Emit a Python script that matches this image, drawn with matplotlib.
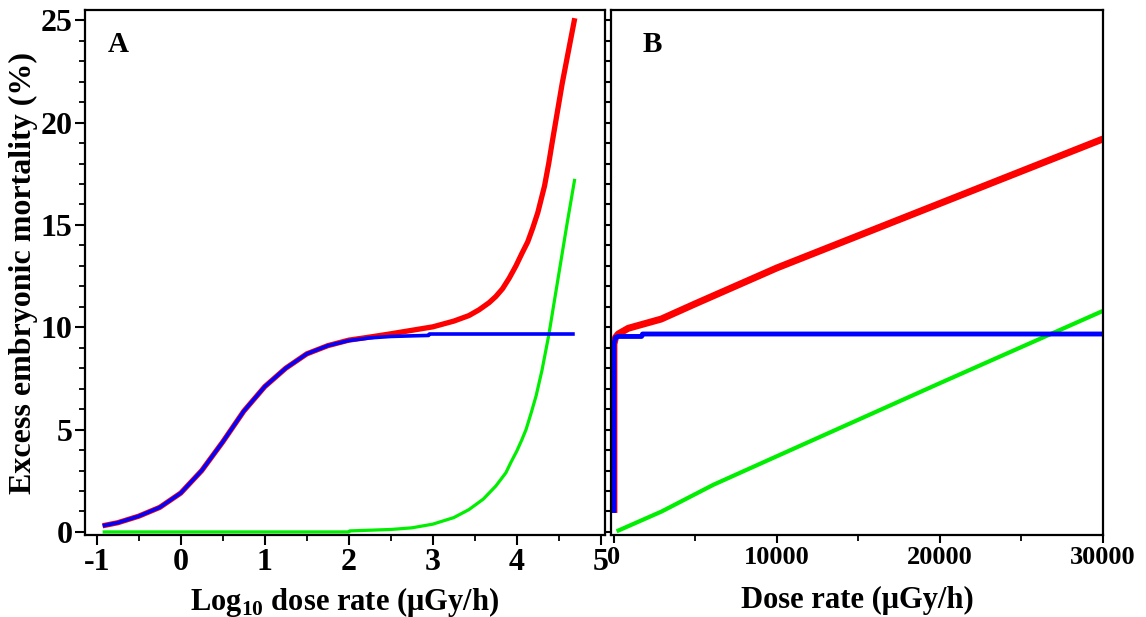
import matplotlib
matplotlib.use("Agg")
import matplotlib.pyplot as plt
from matplotlib.ticker import MultipleLocator

plt.rcParams['font.family'] = ['Liberation Serif', 'DejaVu Serif']
plt.rcParams['mathtext.fontset'] = 'custom'
plt.rcParams['mathtext.rm'] = 'Liberation Serif:bold'
plt.rcParams['mathtext.bf'] = 'Liberation Serif:bold'

# ---------------- Panel A data (log10 dose rate) ----------------
a_blue_x = [-0.93, -0.75, -0.5, -0.25, 0.0, 0.25, 0.5, 0.75, 1.0, 1.25, 1.5, 1.75,
            2.0, 2.25, 2.5, 2.75, 2.95, 2.96, 3.5, 4.0, 4.69]
a_blue_y = [0.30, 0.45, 0.77, 1.20, 1.90, 3.00, 4.40, 5.90, 7.10, 8.00, 8.70, 9.10,
            9.35, 9.48, 9.55, 9.58, 9.60, 9.67, 9.67, 9.67, 9.67]

a_red_x = [-0.93, -0.75, -0.5, -0.25, 0.0, 0.25, 0.5, 0.75, 1.0, 1.25, 1.5, 1.75,
           2.0, 2.25, 2.5, 2.75, 3.0, 3.25, 3.43, 3.55, 3.67, 3.75, 3.83, 3.91,
           3.99, 4.06, 4.13, 4.19, 4.25, 4.33, 4.38, 4.42, 4.54, 4.69]
a_red_y = [0.30, 0.45, 0.77, 1.20, 1.90, 3.00, 4.40, 5.90, 7.10, 8.00, 8.70, 9.10,
           9.37, 9.52, 9.68, 9.85, 10.02, 10.30, 10.57, 10.85, 11.20, 11.50, 11.88,
           12.40, 13.00, 13.60, 14.17, 14.85, 15.60, 16.90, 18.00, 19.00, 21.90, 25.10]

a_green_x = [-0.93, 0.0, 1.0, 2.0, 2.01, 2.5, 2.75, 3.0, 3.25, 3.43, 3.6, 3.75,
             3.87, 3.93, 4.0, 4.06, 4.11, 4.17, 4.23, 4.3, 4.38, 4.5, 4.6, 4.69]
a_green_y = [0.0, 0.0, 0.0, 0.0, 0.05, 0.12, 0.20, 0.38, 0.70, 1.09, 1.60, 2.24,
             2.89, 3.40, 3.95, 4.50, 5.00, 5.80, 6.65, 7.90, 9.60, 12.60, 15.10, 17.25]

# ---------------- Panel B data (dose rate) ----------------
b_blue_x = [0, 0, 100, 250, 1700, 1750, 30000]
b_blue_y = [0.93, 9.20, 9.50, 9.55, 9.55, 9.67, 9.67]

b_red_x = [0, 0, 100, 265, 880, 2900, 4970, 10000, 20000, 30000]
b_red_y = [0.93, 9.18, 9.50, 9.67, 9.95, 10.40, 11.14, 12.90, 16.05, 19.20]

b_green_x = [165, 2930, 6090, 10000, 20000, 30000]
b_green_y = [0.03, 1.00, 2.30, 3.70, 7.27, 10.80]

a_xticks = [-1, 0, 1, 2, 3, 4, 5]
b_xticks = [0, 10000, 20000, 30000]
yticks = [0, 5, 10, 15, 20, 25]

RED = '#ff0000'
BLUE = '#0000ff'
GREEN = '#00ee00'

fig = plt.figure(figsize=(11.46, 6.17), dpi=100)
axA = fig.add_axes([85/1146, 1-535/617, 520/1146, 525/617])
axB = fig.add_axes([611/1146, 1-535/617, 492/1146, 525/617])

# Panel A
axA.plot(a_green_x, a_green_y, color=GREEN, lw=2.3, solid_capstyle='butt')
axA.plot(a_red_x, a_red_y, color=RED, lw=3.8, solid_capstyle='butt')
axA.plot(a_blue_x, a_blue_y, color=BLUE, lw=2.6, solid_capstyle='butt')
axA.set_xlim(-1.14, 5.05)
axA.set_ylim(-0.15, 25.5)
axA.set_xticks(a_xticks)
axA.set_xticklabels([('-1' if t == -1 else str(t)) for t in a_xticks])
axA.set_yticks(yticks)
axA.xaxis.set_minor_locator(MultipleLocator(0.5))
axA.yaxis.set_minor_locator(MultipleLocator(1))
axA.tick_params(which='major', direction='out', length=7, width=1.5, labelsize=23, pad=2)
axA.tick_params(which='minor', direction='out', length=4, width=1.3)
for lab in axA.get_xticklabels() + axA.get_yticklabels():
    lab.set_fontweight('bold')
axA.set_xlabel(r'Log$_{\mathbf{10}}$ dose rate (μGy/h)', fontsize=22, fontweight='bold', labelpad=6)
axA.set_ylabel('Excess embryonic mortality (%)', fontsize=23, fontweight='bold', labelpad=2)
axA.text(0.044, 0.935, 'A', transform=axA.transAxes, fontsize=21, fontweight='bold',
         va='center', ha='left')

# Panel B
axB.plot(b_green_x, b_green_y, color=GREEN, lw=3.0, solid_capstyle='butt')
axB.plot(b_red_x, b_red_y, color=RED, lw=5.0, solid_capstyle='butt')
axB.plot(b_blue_x, b_blue_y, color=BLUE, lw=3.5, solid_capstyle='butt')
axB.set_xlim(-180, 30000)
axB.set_ylim(-0.15, 25.5)
axB.set_xticks(b_xticks)
axB.xaxis.set_minor_locator(MultipleLocator(5000))
axB.yaxis.set_major_locator(MultipleLocator(1))
axB.set_yticklabels([])
axB.tick_params(axis='x', which='major', direction='out', length=6, width=1.5, labelsize=19, pad=2)
axB.tick_params(axis='x', which='minor', direction='out', length=4, width=1.3)
axB.tick_params(axis='y', which='major', direction='out', length=5, width=1.5)
for lab in axB.get_xticklabels():
    lab.set_fontweight('bold')
axB.set_xlabel('Dose rate (μGy/h)', fontsize=22, fontweight='bold', labelpad=12)
axB.text(0.065, 0.935, 'B', transform=axB.transAxes, fontsize=21, fontweight='bold',
         va='center', ha='left')

for ax in (axA, axB):
    for s in ax.spines.values():
        s.set_linewidth(1.6)

fig.savefig('out.png', dpi=100)
